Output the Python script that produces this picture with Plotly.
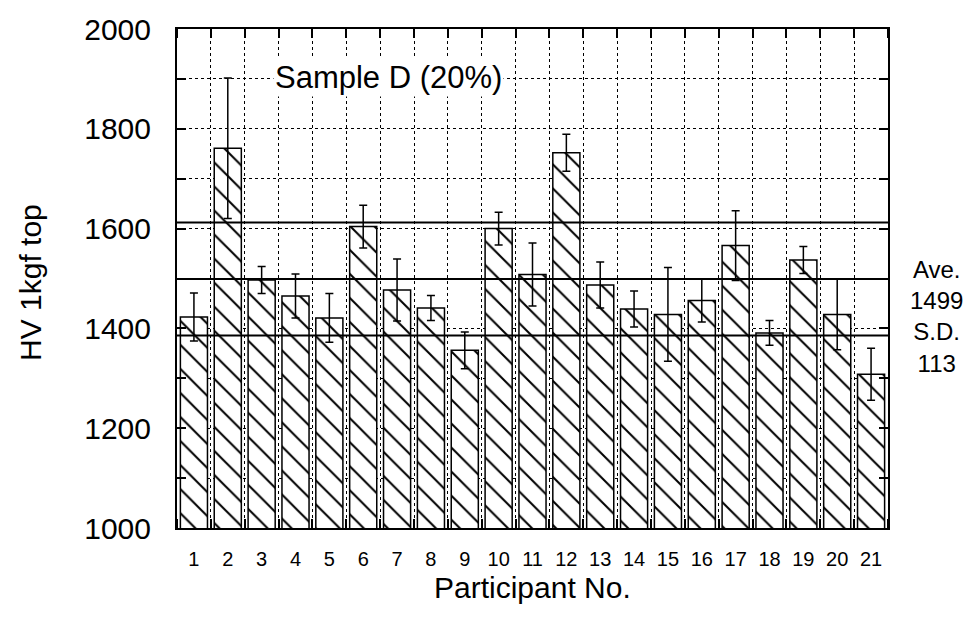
import plotly.graph_objects as go

participants = list(range(1, 22))
tick_labels = [str(p) for p in participants]
hv_values = [1423, 1761, 1497, 1465, 1421, 1604, 1477, 1441, 1356, 1600, 1508,
             1752, 1487, 1439, 1428, 1456, 1566, 1391, 1537, 1428, 1308]
hv_errors = [48, 141, 27, 44, 49, 43, 62, 25, 37, 33, 63,
             37, 46, 36, 94, 43, 70, 25, 27, 71, 52]
AVE = 1499
SD = 113

FONT = "Liberation Sans, Arial, Helvetica, sans-serif"

fig = go.Figure()
fig.add_trace(go.Bar(
    x=participants, y=hv_values, base=0, width=0.8,
    marker=dict(color="white", line=dict(color="black", width=1.5),
                pattern=dict(shape="\\", fgcolor="black", bgcolor="white",
                             size=17, solidity=0.12, fillmode="replace")),
    error_y=dict(type="data", array=hv_errors, visible=True,
                 color="black", thickness=1.5, width=4),
    showlegend=False,
))

for v in (AVE - SD, AVE, AVE + SD):
    fig.add_shape(type="line", xref="paper", x0=0, x1=1, yref="y", y0=v, y1=v,
                  line=dict(color="black", width=2), layer="above")

fig.update_layout(
    width=974, height=620,
    margin=dict(l=177, r=86, t=27, b=92),
    paper_bgcolor="white", plot_bgcolor="white",
    font=dict(family=FONT, color="black"),
    bargap=0.2,
)

fig.update_xaxes(
    range=[0.5, 21.5], tickmode="array", tickvals=participants, ticktext=tick_labels,
    ticks="", showgrid=False, zeroline=False,
    showline=True, linecolor="black", linewidth=2, mirror="allticks",
    tickfont=dict(size=20), ticklabelstandoff=12,
    minor=dict(tickmode="linear", tick0=0.5, dtick=1, ticks="inside", ticklen=9,
               tickcolor="black", tickwidth=1.5,
               showgrid=True, gridcolor="black", griddash="dot", gridwidth=1),
)
fig.update_yaxes(
    range=[1000, 2000], tickmode="linear", tick0=1000, dtick=200,
    ticks="inside", ticklen=9, tickcolor="black", tickwidth=1.5,
    showgrid=True, gridcolor="black", griddash="dot", gridwidth=1, zeroline=False,
    showline=True, linecolor="black", linewidth=2, mirror="allticks",
    tickfont=dict(size=30), ticklabelstandoff=18,
    minor=dict(tickmode="linear", tick0=1000, dtick=100, ticks="inside", ticklen=9,
               tickcolor="black", tickwidth=1.5,
               showgrid=True, gridcolor="black", griddash="dot", gridwidth=1),
)

fig.add_annotation(text="Sample D (20%)", xref="paper", yref="paper",
                   x=0.298, y=0.902, xanchor="center", yanchor="middle",
                   showarrow=False, bgcolor="white", font=dict(size=31))
fig.add_annotation(text="Ave.<br>%d<br>S.D.<br>%d" % (AVE, SD), xref="paper", yref="paper",
                   x=(937 - 177) / 711, y=(528 - 316) / 501, xanchor="center", yanchor="middle",
                   showarrow=False, font=dict(size=24), align="center")
fig.add_annotation(text="HV 1kgf top", xref="paper", yref="paper",
                   x=(31 - 177) / 711, y=(528 - 282) / 501, xanchor="center", yanchor="middle",
                   textangle=-90, showarrow=False, font=dict(size=30))
fig.add_annotation(text="Participant No.", xref="paper", yref="paper",
                   x=0.5, y=(528 - 588) / 501, xanchor="center", yanchor="middle",
                   showarrow=False, font=dict(size=30))

fig.write_html("out.html")
